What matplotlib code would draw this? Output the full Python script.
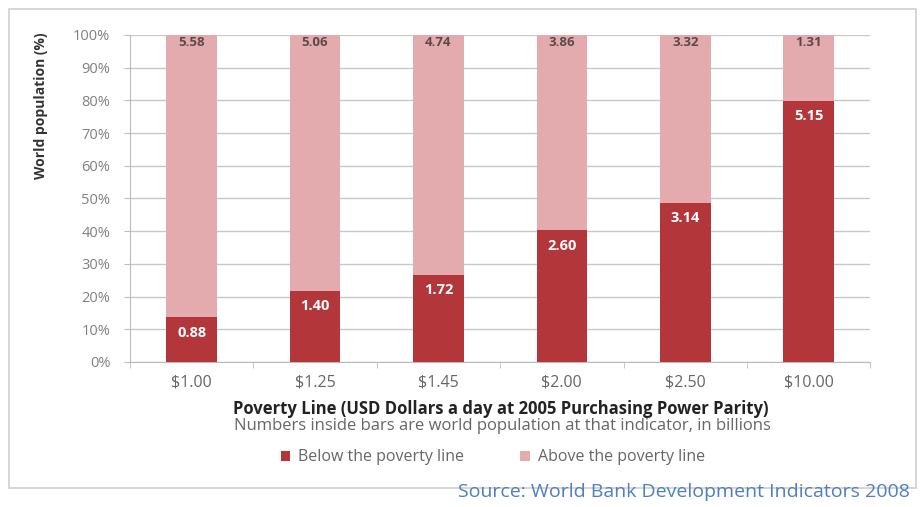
import numpy as np
import matplotlib.pyplot as plt
from matplotlib.patches import Rectangle

plt.rcParams['font.family'] = ['Open Sans', 'DejaVu Sans']

# world population in billions at each poverty line
poverty_lines = ['$1.00', '$1.25', '$1.45', '$2.00', '$2.50', '$10.00']
below = [0.88, 1.40, 1.72, 2.60, 3.14, 5.15]
above = [5.58, 5.06, 4.74, 3.86, 3.32, 1.31]
y_ticks = [0, 10, 20, 30, 40, 50, 60, 70, 80, 90, 100]

dark_red = '#B3363A'
pink = '#E4ABAE'

below_arr = np.array(below)
above_arr = np.array(above)
total = below_arr + above_arr
below_pct = below_arr / total * 100
above_pct = above_arr / total * 100

fig = plt.figure(figsize=(9.21, 5.07), dpi=100)
ax = fig.add_axes([0.141, 0.286, 0.804, 0.645])

x = np.arange(len(poverty_lines))
b1 = ax.bar(x, below_pct, width=0.41, color=dark_red, zorder=3, label='Below the poverty line')
b2 = ax.bar(x, above_pct, width=0.41, bottom=below_pct, color=pink, zorder=3, label='Above the poverty line')

# numbers inside bars
for i in range(len(x)):
    ax.text(x[i], below_pct[i] - 2.5, '%.2f' % below[i], ha='center', va='top',
            color='white', fontsize=10.5, fontweight='bold', zorder=4)
    ax.text(x[i], 99.7, '%.2f' % above[i], ha='center', va='top',
            color='#5a4a4a', fontsize=9.5, fontweight='bold', zorder=4)

ax.set_xlim(-0.5, len(x) - 0.5)
ax.set_ylim(0, 100)
ax.set_yticks(y_ticks)
ax.set_yticklabels(['%d%%' % t for t in y_ticks], color='#808080', fontsize=10.5)
ax.set_xticks(x)
ax.set_xticklabels(poverty_lines, color='#666666', fontsize=11.5)
ax.set_xticks(np.arange(-0.5, len(x)), minor=True)
ax.tick_params(axis='y', length=4, color='#bbbbbb', pad=10)
ax.tick_params(axis='x', which='major', length=0, pad=9)
ax.tick_params(axis='x', which='minor', length=4, color='#bbbbbb')
ax.grid(axis='y', color='#c8c8c8', lw=1, zorder=0)
for s in ['top', 'right']:
    ax.spines[s].set_visible(False)
ax.spines['left'].set_color('#bbbbbb')
ax.spines['bottom'].set_color('#bbbbbb')

ax.set_ylabel('World population (%)', fontsize=10, fontweight='bold', color='#333333')
ax.yaxis.set_label_coords(-0.11, 0.785)

fig.text(0.544, 0.193, 'Poverty Line (USD Dollars a day at 2005 Purchasing Power Parity)',
         ha='center', va='center', fontsize=12, fontweight='bold', color='#222222')
fig.text(0.545, 0.160, 'Numbers inside bars are world population at that indicator, in billions',
         ha='center', va='center', fontsize=12, color='#666666')

fig.legend(handles=[b1, b2], loc='center', bbox_to_anchor=(0.535, 0.098), ncol=2, frameon=False,
           fontsize=11.5, handlelength=0.6, handleheight=0.6, columnspacing=3.5, handletextpad=0.5,
           labelcolor='#666666')

# outer chart frame
fig.patches.append(Rectangle((0.010, 0.038), 0.985, 0.945, transform=fig.transFigure,
                             fill=False, edgecolor='#d0d0d0', lw=1.2))

fig.text(0.497, 0.030, 'Source: World Bank Development Indicators 2008',
         ha='left', va='center', fontsize=14, color='#4F7FC0')

fig.savefig('out.png', dpi=100)
